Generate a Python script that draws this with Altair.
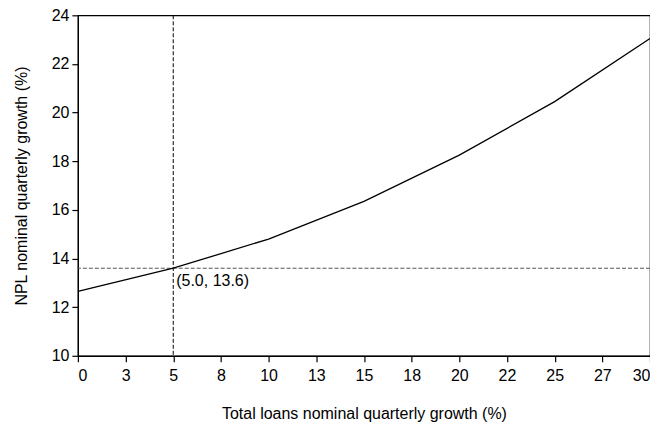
import altair as alt
import pandas as pd

# Data
loan_growth = [0, 5, 10, 15, 20, 25, 30]
npl_growth = [12.65, 13.6, 14.8, 16.35, 18.25, 20.45, 23.05]
x_tick_values = [0, 2.5, 5, 7.5, 10, 12.5, 15, 17.5, 20, 22.5, 25, 27.5, 30]
x_tick_labels = ["0", "3", "5", "8", "10", "13", "15", "18", "20", "22", "25", "27", "30"]
y_tick_values = [10, 12, 14, 16, 18, 20, 22, 24]
ref_x = [5.0]
ref_y = [13.6]
ann_text = ["(5.0, 13.6)"]

df = pd.DataFrame({"x": loan_growth, "y": npl_growth})
ref_df = pd.DataFrame({"x": ref_x, "y": ref_y, "label": ann_text})

FONT = "Liberation Sans"
label_expr = "[" + ",".join("'" + s + "'" for s in x_tick_labels) + "][round(datum.value/2.5)]"

x_scale = alt.Scale(domain=[0, 30], nice=False, zero=False)
y_scale = alt.Scale(domain=[10, 24], nice=False, zero=False)

x_axis = alt.Axis(values=x_tick_values, labelExpr=label_expr,
                  title="Total loans nominal quarterly growth (%)",
                  titlePadding=22, labelPadding=6)
y_axis = alt.Axis(values=y_tick_values, title="NPL nominal quarterly growth (%)",
                  titlePadding=22, labelPadding=3)

line = alt.Chart(df).mark_line(color="black", strokeWidth=1.3).encode(
    x=alt.X("x:Q", scale=x_scale, axis=x_axis),
    y=alt.Y("y:Q", scale=y_scale, axis=y_axis),
)

hrule = alt.Chart(ref_df).mark_rule(color="#555555", strokeDash=[4, 2], strokeWidth=1).encode(
    y=alt.Y("y:Q", scale=y_scale),
)
vrule = alt.Chart(ref_df).mark_rule(color="black", strokeDash=[4, 2], strokeWidth=1).encode(
    x=alt.X("x:Q", scale=x_scale),
)
text = alt.Chart(ref_df).mark_text(align="left", baseline="top", dx=3, dy=5,
                                   font=FONT, fontSize=16, color="black").encode(
    x=alt.X("x:Q", scale=x_scale),
    y=alt.Y("y:Q", scale=y_scale),
    text="label:N",
)

chart = alt.layer(vrule, hrule, line, text).properties(
    width=573, height=341,
    autosize=alt.AutoSizeParams(type="none"),
    padding={"left": 70, "top": 7, "right": 0, "bottom": 70},
).configure_view(
    stroke="black", strokeWidth=1.2
).configure_axis(
    grid=False, domainColor="black", tickColor="black", labelColor="black",
    titleColor="black", labelFont=FONT, titleFont=FONT, labelFontSize=16,
    titleFontSize=16, titleFontWeight="normal", tickSize=6, domainWidth=1.2,
    tickWidth=1.2,
)

chart.save("out.html", embed_options={"renderer": "svg", "actions": False})
